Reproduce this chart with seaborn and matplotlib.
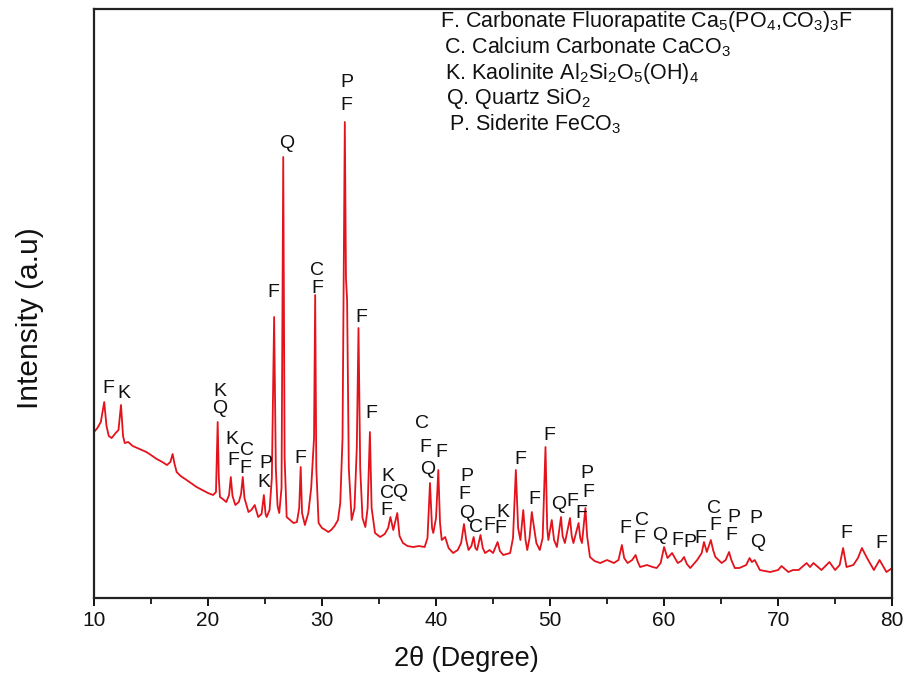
import pandas as pd
import seaborn as sns
import matplotlib
matplotlib.use('Agg')
import matplotlib.pyplot as plt

# XRD pattern (2theta in degrees, intensity in arbitrary units)
two_theta = [
    10.0, 10.3, 10.6, 10.9, 11.1, 11.3, 11.55, 11.9, 12.15, 12.37, 12.55, 12.7,
    13.0, 13.4, 13.8, 14.2, 14.6, 15.0, 15.5, 16.0, 16.4, 16.7, 16.9, 17.05,
    17.25, 17.6, 18.0, 18.5, 19.0, 19.5, 20.0, 20.45, 20.7, 20.85, 20.95, 21.05,
    21.3, 21.6, 21.85, 22.0, 22.15, 22.4, 22.7, 22.9, 23.05, 23.2, 23.55, 23.8,
    24.1, 24.4, 24.7, 24.9, 25.05, 25.15, 25.4, 25.6, 25.8, 25.95, 26.1, 26.25,
    26.45, 26.6, 26.72, 26.9, 27.2, 27.5, 27.8, 28.0, 28.13, 28.25, 28.5, 28.8,
    29.05, 29.2, 29.3, 29.4, 29.5, 29.7, 30.0, 30.3, 30.55, 30.8, 31.1, 31.4,
    31.6, 31.8, 32.0, 32.1, 32.2, 32.35, 32.6, 32.85, 33.05, 33.2, 33.35, 33.55,
    33.8, 34.0, 34.2, 34.35, 34.65, 35.1, 35.5, 35.8, 36.0, 36.25, 36.6, 36.8,
    37.1, 37.5, 38.0, 38.5, 39.0, 39.25, 39.47, 39.65, 39.76, 40.0, 40.2, 40.35,
    40.5, 40.8, 41.1, 41.5, 41.9, 42.2, 42.45, 42.65, 42.85, 43.1, 43.3, 43.45,
    43.6, 43.9, 44.1, 44.3, 44.7, 45.0, 45.4, 45.6, 45.9, 46.2, 46.5, 46.75,
    47.0, 47.2, 47.4, 47.65, 47.85, 48.0, 48.2, 48.4, 48.6, 48.8, 49.1, 49.35,
    49.6, 49.75, 49.85, 50.15, 50.35, 50.6, 50.96, 51.1, 51.3, 51.75, 51.9, 52.05,
    52.5, 52.65, 52.8, 53.1, 53.25, 53.5, 53.9, 54.4, 55.0, 55.6, 56.0, 56.3,
    56.5, 56.8, 57.2, 57.5, 57.7, 57.9, 58.5, 59.0, 59.35, 59.7, 60.0, 60.3,
    60.7, 61.2, 61.5, 61.75, 62.0, 62.3, 62.9, 63.3, 63.5, 63.75, 64.1, 64.3,
    64.5, 65.05, 65.4, 65.7, 65.9, 66.2, 66.6, 67.2, 67.5, 67.7, 67.95, 68.4,
    69.3, 70.0, 70.3, 70.9, 71.3, 71.8, 72.5, 72.8, 73.1, 73.8, 74.5, 75.0,
    75.4, 75.7, 76.0, 76.6, 77.0, 77.35, 77.8, 78.4, 78.9, 79.5, 80.0,
]
intensity = [
    166, 170, 176, 196, 172, 162, 160, 165, 168, 193, 162, 155,
    156, 152, 150, 148, 146, 143, 139, 136, 133, 136, 144, 135,
    126, 122, 119, 115, 111, 108, 105, 103, 106, 176, 120, 101,
    99, 96, 103, 121, 102, 93, 96, 104, 121, 100, 86, 88,
    93, 81, 84, 103, 84, 81, 88, 120, 281, 130, 92, 85,
    110, 441, 140, 81, 78, 75, 76, 90, 131, 85, 73, 85,
    110, 141, 160, 303, 130, 75, 70, 68, 66, 68, 72, 78,
    95, 160, 476, 320, 298, 130, 78, 90, 150, 270, 130, 80,
    71, 90, 166, 90, 65, 61, 64, 70, 81, 68, 85, 62,
    55, 52, 51, 52, 51, 60, 115, 70, 65, 80, 128, 75,
    58, 61, 50, 45, 48, 55, 74, 58, 48, 52, 61, 50,
    48, 63, 50, 45, 48, 45, 56, 47, 43, 44, 45, 60,
    128, 70, 58, 88, 58, 48, 60, 86, 70, 55, 48, 60,
    151, 70, 58, 78, 58, 51, 81, 62, 55, 80, 62, 55,
    75, 60, 55, 90, 62, 41, 37, 35, 38, 35, 38, 53,
    40, 35, 38, 43, 36, 31, 33, 31, 30, 35, 51, 40,
    45, 35, 37, 41, 34, 30, 38, 45, 56, 46, 58, 48,
    41, 35, 38, 46, 38, 30, 30, 33, 40, 36, 38, 28,
    26, 28, 32, 26, 28, 28, 35, 31, 35, 28, 36, 28,
    33, 50, 31, 33, 40, 50, 40, 28, 38, 26, 30,
]

# phase letters marked above the peaks: letter, 2theta, height
peak_letters = ['F', 'K', 'K', 'Q', 'K', 'F', 'C', 'F', 'P', 'K',
                'F', 'Q', 'F', 'C', 'F', 'P', 'F', 'F', 'F', 'K',
                'C', 'F', 'Q', 'C', 'F', 'Q', 'F', 'P', 'F', 'Q',
                'C', 'F', 'F', 'K', 'F', 'F', 'F', 'Q', 'F', 'F',
                'P', 'F', 'F', 'C', 'F', 'Q', 'F', 'P', 'F', 'C',
                'F', 'P', 'F', 'P', 'Q', 'F', 'F']
letter_x = [11.25, 12.66, 21.05, 21.05, 22.08, 22.22, 23.39, 23.25, 25.09, 24.91,
            25.73, 26.90, 28.13, 29.59, 29.59, 32.17, 32.11, 33.42, 34.36, 35.76,
            35.68, 35.68, 36.84, 38.75, 39.04, 39.24, 40.50, 42.69, 42.48, 42.69,
            43.48, 44.66, 45.60, 45.82, 47.37, 48.60, 49.94, 50.73, 51.92, 52.76,
            53.27, 53.36, 56.58, 58.04, 57.83, 59.65, 61.12, 62.22, 63.22, 64.39,
            64.47, 66.08, 65.94, 68.07, 68.25, 75.94, 79.04]
letter_y = [210, 205, 207, 190, 159, 138, 148, 130, 135, 116,
            306, 455, 140, 328, 310, 516, 493, 281, 185, 122,
            105, 88, 106, 175, 151, 129, 146, 122, 104, 85,
            71, 73, 70, 86, 139, 99, 163, 94, 97, 85,
            125, 106, 70, 78, 60, 63, 58, 56, 60, 90,
            73, 81, 63, 80, 56, 65, 55]

legend_lines = [
    r'F. Carbonate Fluorapatite Ca$_5$(PO$_4$,CO$_3$)$_3$F',
    r'C. Calcium Carbonate CaCO$_3$',
    r'K. Kaolinite Al$_2$Si$_2$O$_5$(OH)$_4$',
    r'Q. Quartz SiO$_2$',
    r'P. Siderite FeCO$_3$',
]
legend_indent = [0.0, 0.005, 0.006, 0.007, 0.011]

sns.set_theme(style='ticks')
plt.rcParams['font.family'] = ['Liberation Sans', 'DejaVu Sans']
plt.rcParams['mathtext.fontset'] = 'custom'
plt.rcParams['mathtext.rm'] = 'Liberation Sans'
plt.rcParams['mathtext.it'] = 'Liberation Sans'

df = pd.DataFrame({'two_theta': two_theta, 'intensity': intensity})

fig = plt.figure(figsize=(9.07, 6.94), dpi=100)
ax = fig.add_axes([0.1036, 0.1383, 0.88, 0.8487])
sns.lineplot(data=df, x='two_theta', y='intensity', color='#e3121b',
             linewidth=1.3, ax=ax)

for letter, x, y in zip(peak_letters, letter_x, letter_y):
    ax.text(x, y, letter, ha='center', va='center', fontsize=14, color='#111111')

for i, line in enumerate(legend_lines):
    ax.text(0.4336 + legend_indent[i], 0.969 - i * 0.0436, line,
            transform=ax.transAxes, ha='left', va='baseline',
            fontsize=15.5, color='#111111')

ax.set_xlim(10, 80)
ax.set_ylim(0, 589)
ax.set_xticks(range(10, 81, 10))
ax.set_xticks(range(15, 80, 10), minor=True)
ax.set_yticks([])
ax.tick_params(axis='x', which='major', length=6, width=1.4, direction='out',
               labelsize=15, pad=3, colors='#111111')
ax.tick_params(axis='x', which='minor', length=4, width=1.4, direction='out')
for side in ['left', 'right', 'top', 'bottom']:
    ax.spines[side].set_visible(True)
    ax.spines[side].set_linewidth(1.6)
    ax.spines[side].set_color('#222222')

ax.set_xlabel('2θ (Degree)', fontsize=19.5, color='#111111')
ax.xaxis.set_label_coords(0.466, -0.082)
ax.set_ylabel('Intensity (a.u)', fontsize=21.5, color='#111111')
ax.yaxis.set_label_coords(-0.062, 0.475)

fig.savefig('out.png', dpi=100)
plt.close()
